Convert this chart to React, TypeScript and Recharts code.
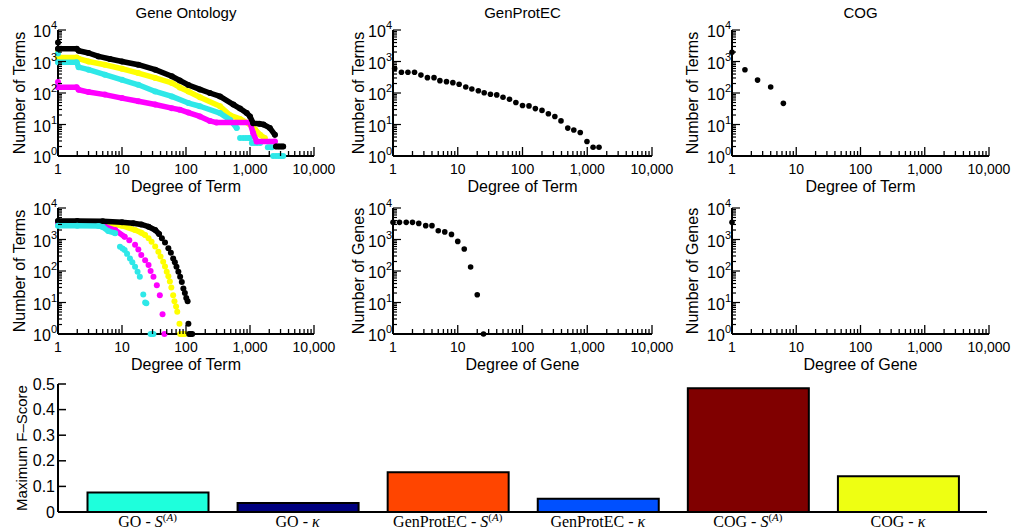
import React from 'react';
import { ScatterChart, Scatter, XAxis, YAxis, BarChart, Bar, Cell } from 'recharts';

type Pair = [number, number];

// ---------- Gene Ontology: term degree distribution (top-left) ----------
const goTermBlackLine: Pair[] = [[1, 2550], [1.96, 2550], [2.1, 2200], [3, 1860], [4.3, 1450], [6.5, 1200], [10, 1000], [18, 790], [33, 550], [60, 340], [80, 250], [109, 180], [165, 130], [236, 100], [340, 78], [550, 43], [700, 32], [890, 23], [1000, 18], [1120, 11], [1400, 10.5], [1620, 10], [2040, 7.8], [2450, 4.7]];
const goTermBlackTail: Pair[] = [[2550, 2], [2800, 2], [3050, 2], [3300, 2]];
const goTermBlackDots: Pair[] = [[1, 4000]];
const goTermYellowLine: Pair[] = [[1, 1350], [1.96, 1350], [2.1, 1230], [3, 1000], [5.4, 790], [10, 590], [18, 430], [33, 300], [60, 209], [80, 150], [109, 112], [165, 73], [340, 38], [490, 19.6], [700, 15], [1000, 10], [1200, 7], [1440, 4.7], [1700, 3.7]];
const goTermYellowDots: Pair[] = [[1, 2000]];
const goTermCyanLine: Pair[] = [[1, 940], [1.96, 940], [2.1, 660], [3, 550], [5.4, 380], [10, 263], [18, 182], [33, 112], [60, 78], [109, 48], [165, 38], [340, 23], [490, 14], [620, 7.8]];
const goTermCyanDots: Pair[] = [[1, 1800], [700, 3.7], [780, 3.7], [860, 3.7], [940, 3.7], [1000, 3.7], [1070, 2.6], [1170, 2.6], [1290, 2.6], [1440, 2.6], [1900, 1.9], [2050, 1.9], [2200, 1.9], [2300, 1], [2550, 1], [2800, 1], [3050, 1], [3300, 1]];
const goTermMagentaLine: Pair[] = [[1, 151], [1.96, 151], [2.1, 127], [3, 107], [5.4, 89], [10, 69], [18, 55], [33, 43], [60, 33], [80, 29.5], [109, 24], [165, 18], [236, 13], [300, 11.5], [1000, 11.5], [1120, 5.4], [1270, 2.9], [2450, 2.9]];
const goTermMagentaDots: Pair[] = [[1, 224]];

// ---------- Gene Ontology: second row (bottom-left) ----------
const goGeneBlackLine: Pair[] = [[1, 3900], [2, 3900], [5, 3800], [10, 3500], [15, 3300], [20, 3000], [26, 2550], [33, 2000], [38, 1500]];
const goGeneBlackDots: Pair[] = [[42, 1100], [47, 800], [53, 525], [58, 380], [63, 250], [67, 190], [71, 137], [76, 95], [81, 66], [86, 45], [91, 28], [96, 20], [101, 14], [106, 11], [109, 2.1], [112, 1], [118, 1], [125, 1]];
const goGeneYellowLine: Pair[] = [[1, 3500], [5.4, 3250], [10, 2750], [16, 2000], [20, 1650], [23, 1380]];
const goGeneYellowDots: Pair[] = [[26, 1100], [29, 850], [33, 600], [37, 410], [40, 290], [44, 198], [47, 140], [50, 95], [53, 68], [56, 46], [59, 30], [63, 17], [66, 11], [70, 7.5], [73, 5.1], [79, 2.1], [81, 1], [86, 1], [91, 1], [96, 1]];
const goGeneMagentaLine: Pair[] = [[1, 3450], [3, 3450], [5.4, 2550], [7.8, 2000], [11, 1230]];
const goGeneMagentaDots: Pair[] = [[13, 950], [16, 680], [18, 480], [20, 320], [23, 220], [26, 155], [28, 100], [31, 66], [35, 35], [39, 17], [43, 4.2], [46, 1]];
const goGeneCyanLine: Pair[] = [[1, 2750], [2, 2750], [4.3, 2700], [5, 2500], [6.1, 1850], [7.8, 1580]];
const goGeneCyanDots: Pair[] = [[9.3, 590], [10.2, 520], [11, 465], [12, 350], [13.3, 250], [14.5, 190], [16, 137], [17.5, 95], [19, 66], [21.5, 18], [23, 10], [24, 9.4], [28, 1], [29.5, 1], [31, 1]];

// ---------- GenProtEC ----------
const genProtTerms: Pair[] = [[1.06, 600], [1.35, 455], [1.7, 455], [2.15, 455], [2.7, 370], [3.4, 307], [4.3, 307], [5.3, 247], [6.7, 229], [8.4, 213], [10.5, 189], [13.3, 155], [16.5, 134], [20.8, 118], [25.6, 102], [32, 91], [40, 87], [50, 73], [63, 63], [79, 50], [100, 40], [126, 39], [158, 32], [200, 28], [251, 22], [316, 18], [393, 13], [500, 7.7], [620, 6.7], [780, 5.6], [990, 2.9], [1230, 1.9], [1520, 1.9]];
const genProtGenes: Pair[] = [[1, 3500], [1.26, 3500], [1.6, 3500], [2, 3500], [2.5, 3240], [3.2, 2750], [4, 2750], [5, 1900], [6.3, 1740], [8, 1450], [10, 870], [12.6, 500], [15.8, 134], [20, 17.7], [25, 1]];

// ---------- COG ----------
const cogTerms: Pair[] = [[1, 1950], [1.59, 550], [2.5, 257], [4, 155], [6.3, 47]];
const cogGenes: Pair[] = [[1, 3500]];

// ---------- Bar chart ----------
const BAR_DATASETS = ['GO', 'GO', 'GenProtEC', 'GenProtEC', 'COG', 'COG'];
const BAR_MEASURES = ['S', 'κ', 'S', 'κ', 'S', 'κ'];
const BAR_VALUES = [0.076, 0.035, 0.155, 0.052, 0.483, 0.14];
const BAR_COLORS = ['#1EFFDC', '#000080', '#FF4500', '#0050FF', '#800000', '#EEFF12'];
const F_TICKS = [0, 0.1, 0.2, 0.3, 0.4, 0.5];
const F_TICK_LABELS = ['0', '0.1', '0.2', '0.3', '0.4', '0.5'];

// ---------- Axis ticks ----------
const LOG_MAJOR = [1, 10, 100, 1000, 10000];
const X_TICK_LABELS = ['1', '10', '100', '1,000', '10,000'];
const Y_TICK_EXPONENTS = ['0', '1', '2', '3', '4'];
const LOG_TICKS: number[] = [];
[1, 10, 100, 1000].forEach((d) => {
  for (let m = 1; m <= 9; m++) LOG_TICKS.push(m * d);
});
LOG_TICKS.push(10000);

const SANS = '"Liberation Sans", Arial, Helvetica, sans-serif';
const SERIF = '"Liberation Serif", "Times New Roman", serif';

const BLACK = '#000000';
const YELLOW = '#FFFF00';
const CYAN = '#2EE8E8';
const MAGENTA = '#FF00FF';

const toPts = (a: Pair[]) => a.map(([x, y]) => ({ x, y }));

type Series = { data: Pair[]; color: string; line?: boolean; r?: number };

const LogXTick = (props: any) => {
  const { x, y, payload } = props;
  const idx = LOG_MAJOR.indexOf(payload.value);
  const major = idx >= 0;
  return (
    <g>
      <line x1={x} x2={x} y1={y} y2={y - (major ? 9 : 5)} stroke="#000" strokeWidth={1.3} />
      {major && (
        <text x={x} y={y + 18} textAnchor="middle" fontFamily={SANS} fontSize={14} fill="#000">
          {X_TICK_LABELS[idx]}
        </text>
      )}
    </g>
  );
};

const LogYTick = (props: any) => {
  const { x, y, payload } = props;
  const idx = LOG_MAJOR.indexOf(payload.value);
  const major = idx >= 0;
  return (
    <g>
      <line x1={x} x2={x + (major ? 8 : 4)} y1={y} y2={y} stroke="#000" strokeWidth={1.2} />
      {major && (
        <text x={x - 1} y={y + 7} textAnchor="end" fontFamily={SANS} fontSize={16} fill="#000">
          10
          <tspan dy={-8} fontSize={11}>
            {Y_TICK_EXPONENTS[idx]}
          </tspan>
        </text>
      )}
    </g>
  );
};

const PANEL_W = 340;
const PANEL_H = 198;
const Y_AXIS_W = 58;
const TOP = 30;

type PanelProps = {
  left: number;
  top: number;
  plotW: number;
  series: Series[];
  title?: string;
  xTitle: string;
  yTitle: string;
  yTitleX: number;
};

function LogPanel({ left, top, plotW, series, title, xTitle, yTitle, yTitleX }: PanelProps) {
  const right = PANEL_W - Y_AXIS_W - plotW;
  const cx = Y_AXIS_W + plotW / 2;
  const cy = TOP + 63;
  return (
    <div style={{ position: 'absolute', left, top, width: PANEL_W, height: PANEL_H }}>
      <ScatterChart width={PANEL_W} height={PANEL_H} margin={{ top: TOP, right, bottom: 0, left: 0 }}>
        <XAxis
          type="number"
          dataKey="x"
          scale="log"
          domain={[1, 10000]}
          ticks={LOG_TICKS}
          interval={0}
          tickSize={0}
          tickMargin={0}
          tickLine={false}
          tick={(p: any) => <LogXTick {...p} />}
          axisLine={{ stroke: '#000', strokeWidth: 2 }}
          height={PANEL_H - TOP - 126}
        />
        <YAxis
          type="number"
          dataKey="y"
          scale="log"
          domain={[1, 10000]}
          ticks={LOG_TICKS}
          interval={0}
          tickSize={0}
          tickMargin={0}
          tickLine={false}
          tick={(p: any) => <LogYTick {...p} />}
          axisLine={{ stroke: '#000', strokeWidth: 2 }}
          width={Y_AXIS_W}
        />
        {series.map((s, i) => (
          <Scatter
            key={i}
            data={toPts(s.data)}
            fill={s.color}
            isAnimationActive={false}
            line={
              s.line
                ? { stroke: s.color, strokeWidth: 5.5, strokeLinejoin: 'round', strokeLinecap: 'round' }
                : false
            }
            lineType="joint"
            shape={(p: any) => <circle cx={p.cx} cy={p.cy} r={s.r ?? 3} fill={s.color} />}
          />
        ))}
        {title && (
          <text x={cx} y={18} textAnchor="middle" fontFamily={SANS} fontSize={15} fill="#000">
            {title}
          </text>
        )}
        <text x={cx} y={192} textAnchor="middle" fontFamily={SANS} fontSize={16} fill="#000">
          {xTitle}
        </text>
        <text
          x={yTitleX}
          y={cy}
          transform={`rotate(-90 ${yTitleX} ${cy})`}
          textAnchor="middle"
          fontFamily={SANS}
          fontSize={16}
          fill="#000"
        >
          {yTitle}
        </text>
      </ScatterChart>
    </div>
  );
}

const barData = BAR_VALUES.map((v, i) => ({ name: `${BAR_DATASETS[i]} - ${BAR_MEASURES[i]} ${i}`, value: v }));

const BarTick = (props: any) => {
  const { x, y, payload } = props;
  const i = barData.findIndex((d) => d.name === payload.value);
  if (i < 0) return <g />;
  const ds = BAR_DATASETS[i];
  const m = BAR_MEASURES[i];
  return (
    <text x={x} y={y + 15} textAnchor="middle" fontFamily={SERIF} fontSize={16} fill="#000">
      {`${ds} - `}
      <tspan fontStyle="italic">{m}</tspan>
      {m === 'S' && (
        <tspan fontSize={11} dy={-6}>
          (<tspan fontStyle="italic">A</tspan>)
        </tspan>
      )}
    </text>
  );
};

const FTick = (props: any) => {
  const { x, y, payload } = props;
  const i = F_TICKS.indexOf(payload.value);
  return (
    <g>
      {payload.value > 0 && <line x1={x} x2={x + 8} y1={y} y2={y} stroke="#000" strokeWidth={1.5} />}
      <text x={x - 3} y={y + 5.5} textAnchor="end" fontFamily={SANS} fontSize={16} fill="#000">
        {F_TICK_LABELS[i]}
      </text>
    </g>
  );
};

function FScoreBars() {
  return (
    <div style={{ position: 'absolute', left: 0, top: 360, width: 1017, height: 171 }}>
      <BarChart width={1017} height={171} data={barData} margin={{ top: 24, right: 30, bottom: 0, left: 0 }}>
        <XAxis
          dataKey="name"
          type="category"
          padding={{ left: 14.5, right: 14 }}
          height={19}
          interval={0}
          tickSize={0}
          tickMargin={0}
          tickLine={false}
          tick={(p: any) => <BarTick {...p} />}
          axisLine={{ stroke: '#000', strokeWidth: 2 }}
        />
        <YAxis
          type="number"
          domain={[0, 0.5]}
          ticks={F_TICKS}
          interval={0}
          width={58}
          tickSize={0}
          tickMargin={0}
          tickLine={false}
          tick={(p: any) => <FTick {...p} />}
          axisLine={{ stroke: '#000', strokeWidth: 2 }}
        />
        <Bar dataKey="value" barSize={121} stroke="#000" strokeWidth={2} isAnimationActive={false}>
          {barData.map((d, i) => (
            <Cell key={d.name} fill={BAR_COLORS[i]} />
          ))}
        </Bar>
        <text
          x={27}
          y={88}
          transform="rotate(-90 27 88)"
          textAnchor="middle"
          fontFamily={SANS}
          fontSize={15}
          fill="#000"
        >
          Maximum F–Score
        </text>
      </BarChart>
    </div>
  );
}

export default function App() {
  const goTop: Series[] = [
    { data: goTermYellowLine, color: YELLOW, line: true },
    { data: goTermYellowDots, color: YELLOW },
    { data: goTermCyanLine, color: CYAN, line: true },
    { data: goTermCyanDots, color: CYAN },
    { data: goTermMagentaLine, color: MAGENTA, line: true },
    { data: goTermMagentaDots, color: MAGENTA },
    { data: goTermBlackLine, color: BLACK, line: true },
    { data: goTermBlackTail, color: BLACK, line: true },
    { data: goTermBlackDots, color: BLACK },
  ];
  const goBottom: Series[] = [
    { data: goGeneYellowLine, color: YELLOW, line: true },
    { data: goGeneYellowDots, color: YELLOW },
    { data: goGeneMagentaLine, color: MAGENTA, line: true },
    { data: goGeneMagentaDots, color: MAGENTA },
    { data: goGeneBlackLine, color: BLACK, line: true },
    { data: goGeneBlackDots, color: BLACK },
    { data: goGeneCyanLine, color: CYAN, line: true },
    { data: goGeneCyanDots, color: CYAN },
  ];
  return (
    <div style={{ position: 'absolute', left: 0, top: 0, width: 1017, height: 531, background: '#fff', overflow: 'hidden' }}>
      <LogPanel left={0} top={0} plotW={256} series={goTop} title="Gene Ontology" xTitle="Degree of Term" yTitle="Number of Terms" yTitleX={25} />
      <LogPanel left={335} top={0} plotW={259} series={[{ data: genProtTerms, color: BLACK, r: 2.8 }]} title="GenProtEC" xTitle="Degree of Term" yTitle="Number of Terms" yTitleX={29} />
      <LogPanel left={674} top={0} plotW={257} series={[{ data: cogTerms, color: BLACK, r: 2.8 }]} title="COG" xTitle="Degree of Term" yTitle="Number of Terms" yTitleX={24} />
      <LogPanel left={0} top={178} plotW={256} series={goBottom} xTitle="Degree of Term" yTitle="Number of Terms" yTitleX={25} />
      <LogPanel left={335} top={178} plotW={259} series={[{ data: genProtGenes, color: BLACK, r: 2.8 }]} xTitle="Degree of Gene" yTitle="Number of Genes" yTitleX={29} />
      <LogPanel left={674} top={178} plotW={257} series={[{ data: cogGenes, color: BLACK, r: 2.8 }]} xTitle="Degree of Gene" yTitle="Number of Genes" yTitleX={24} />
      <FScoreBars />
    </div>
  );
}
